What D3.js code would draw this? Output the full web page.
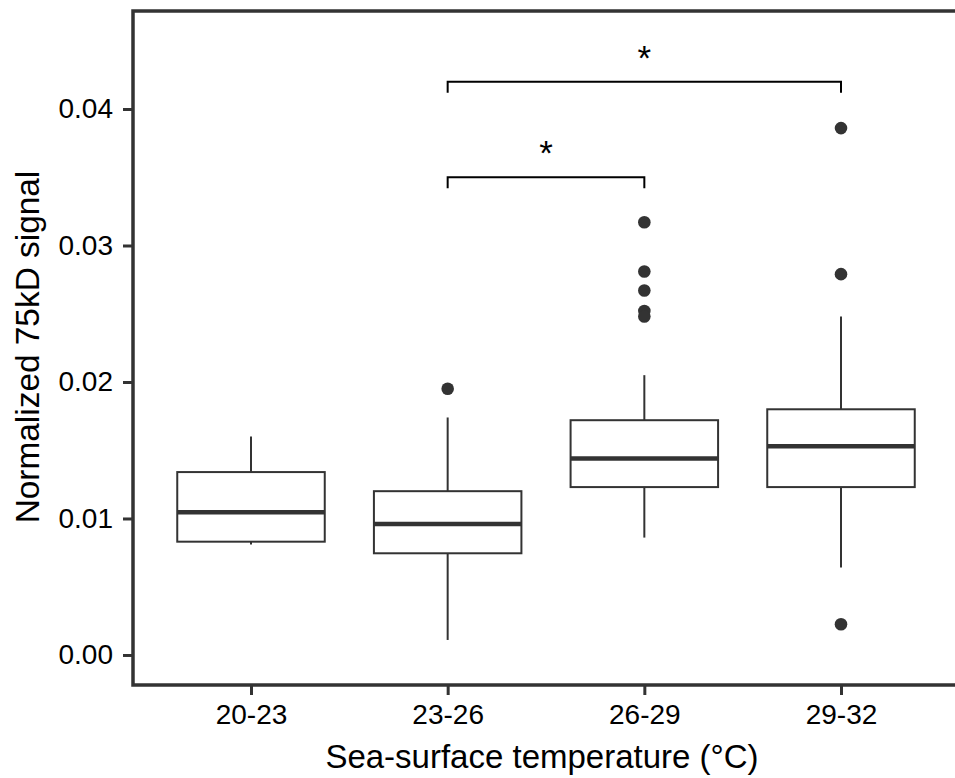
<!DOCTYPE html>
<html>
<head>
    <meta charset="UTF-8">
    <title>75kD signal vs SST</title>
    <style>
        body { margin: 0; background: #fff; }
        text { font-family: "Liberation Sans", Arial, Helvetica, sans-serif; }
    </style>
</head>
<body>
    <script src="https://cdn.jsdelivr.net/npm/d3@7"></script>
    <script type="text/javascript">
        // data
        var groups = ["20-23", "23-26", "26-29", "29-32"];
        var whiskerLow  = [0.0081, 0.0011, 0.0086, 0.0064];
        var q1          = [0.0083, 0.00745, 0.0123, 0.0123];
        var median      = [0.01045, 0.0096, 0.0144, 0.0153];
        var q3          = [0.0134, 0.0120, 0.0172, 0.0180];
        var whiskerHigh = [0.0160, 0.0174, 0.0205, 0.0248];
        var outliers = [
            [],
            [0.0195],
            [0.0317, 0.0281, 0.0267, 0.0252, 0.0248],
            [0.0386, 0.0279, 0.00225]
        ];
        var yTicks = [0, 0.01, 0.02, 0.03, 0.04];
        // significance brackets: from group, to group, height, label
        var brackets = [
            {from: "23-26", to: "26-29", y: 0.0350, label: "*"},
            {from: "23-26", to: "29-32", y: 0.0420, label: "*"}
        ];

        var width = 955, height = 778;
        // panel edges (window.top is read-only, so own names)
        var pLeft = 133, pRight = 959, pTop = 11, pBottom = 685;
        var dark = "#333333";

        var svg = d3.select("body").append("svg")
            .attr("width", width)
            .attr("height", height);

        var x = d3.scalePoint().domain(groups).range([pLeft, pRight]).padding(0.6);
        var y = d3.scaleLinear().domain([-0.0022, 0.04718]).range([pBottom, pTop]);
        var boxW = x.step() * 0.75;

        // boxes
        groups.forEach(function(g, i){
            var cx = x(g);
            var box = svg.append("g");
            box.append("line")
                .attr("x1", cx).attr("x2", cx)
                .attr("y1", y(q3[i])).attr("y2", y(whiskerHigh[i]))
                .attr("stroke", dark).attr("stroke-width", 2);
            box.append("line")
                .attr("x1", cx).attr("x2", cx)
                .attr("y1", y(q1[i])).attr("y2", y(whiskerLow[i]))
                .attr("stroke", dark).attr("stroke-width", 2);
            box.append("rect")
                .attr("x", cx - boxW / 2)
                .attr("y", y(q3[i]))
                .attr("width", boxW)
                .attr("height", y(q1[i]) - y(q3[i]))
                .attr("fill", "white")
                .attr("stroke", dark).attr("stroke-width", 2);
            box.append("line")
                .attr("x1", cx - boxW / 2).attr("x2", cx + boxW / 2)
                .attr("y1", y(median[i])).attr("y2", y(median[i]))
                .attr("stroke", dark).attr("stroke-width", 4.5);
            box.selectAll("circle").data(outliers[i]).enter().append("circle")
                .attr("cx", cx)
                .attr("cy", function(d){ return y(d); })
                .attr("r", 6.3)
                .attr("fill", dark);
        });

        // significance brackets
        var tickDrop = 11;
        brackets.forEach(function(b){
            var yy = y(b.y);
            svg.append("path")
                .attr("d", "M" + x(b.from) + "," + (yy + tickDrop) +
                           "V" + yy + "H" + x(b.to) + "V" + (yy + tickDrop))
                .attr("fill", "none")
                .attr("stroke", "black")
                .attr("stroke-width", 2);
            svg.append("text")
                .attr("x", (x(b.from) + x(b.to)) / 2)
                .attr("y", yy - 12)
                .attr("text-anchor", "middle")
                .attr("font-size", 35)
                .attr("fill", "black")
                .text(b.label);
        });

        // panel border (right side runs off the picture)
        svg.append("rect")
            .attr("x", pLeft).attr("y", pTop)
            .attr("width", pRight - pLeft).attr("height", pBottom - pTop)
            .attr("fill", "none")
            .attr("stroke", dark).attr("stroke-width", 3.5);

        // axes
        var yAxis = svg.append("g")
            .attr("transform", "translate(" + pLeft + ",0)")
            .call(d3.axisLeft(y).tickValues(yTicks).tickFormat(d3.format(".2f"))
                .tickSizeInner(10).tickSizeOuter(0).tickPadding(10));
        var xAxis = svg.append("g")
            .attr("transform", "translate(0," + pBottom + ")")
            .call(d3.axisBottom(x).tickSizeInner(10).tickSizeOuter(0).tickPadding(9));
        [xAxis, yAxis].forEach(function(a){
            a.select(".domain").remove();
            a.selectAll(".tick line").attr("stroke", dark).attr("stroke-width", 3);
            a.selectAll(".tick text")
                .attr("fill", "black")
                .attr("font-size", 28)
                .attr("font-family", "Liberation Sans, Arial, sans-serif");
        });

        // axis titles
        svg.append("text")
            .attr("x", (pLeft + pRight) / 2 - 4)
            .attr("y", 768)
            .attr("text-anchor", "middle")
            .attr("font-size", 33)
            .attr("fill", "black")
            .text("Sea-surface temperature (°C)");
        svg.append("text")
            .attr("transform", "translate(39," + (y(0.02256)) + ") rotate(-90)")
            .attr("text-anchor", "middle")
            .attr("font-size", 33.4)
            .attr("fill", "black")
            .text("Normalized 75kD signal");
    </script>
</body>
</html>
